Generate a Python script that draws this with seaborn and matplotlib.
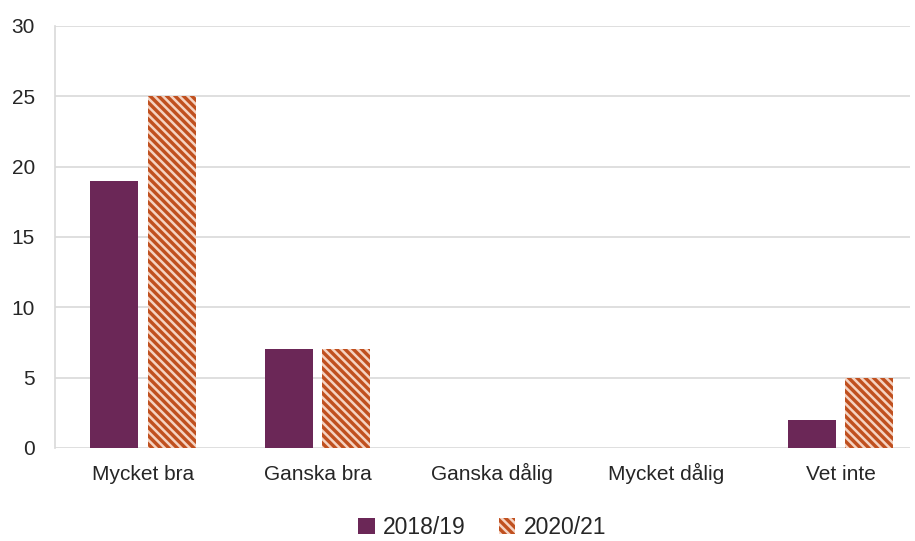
import numpy as np
import pandas as pd
import seaborn as sns
import matplotlib.pyplot as plt
from matplotlib.patches import Patch

# data
categories = ['Mycket bra', 'Ganska bra', 'Ganska dålig', 'Mycket dålig', 'Vet inte']
years = ['2018/19', '2020/21']
values_1819 = [19, 7, 0, 0, 2]
values_2021 = [25, 7, 0, 0, 5]

df = pd.DataFrame({
    'Kategori': categories * 2,
    'År': [years[0]] * len(categories) + [years[1]] * len(categories),
    'Antal': values_1819 + values_2021,
})

sns.set_style('white')
plt.rcParams['font.family'] = ['Liberation Sans', 'DejaVu Sans']
plt.rcParams['hatch.linewidth'] = 1.8

fig = plt.figure(figsize=(9.15, 5.41), dpi=100)
ax = fig.add_axes([0.060, 0.172, 0.935, 0.780])

purple = '#6B2757'
orange = '#C0501F'
stripe = '#F5D3C2'
sns.barplot(data=df, x='Kategori', y='Antal', hue='År', palette=[purple, orange],
            width=0.655, gap=0.16, ax=ax, legend=False, linewidth=0, saturation=1)

# hatch the second series (light stripes on orange)
for p in ax.containers[1]:
    p.set_hatch('\\\\\\\\')
    p.set_edgecolor(stripe)
    p.set_linewidth(0)

ax.set_ylim(0, 30)
ax.set_yticks(range(0, 31, 5))
ax.set_xlim(-0.505, 4.40)
ax.set_xlabel('')
ax.set_ylabel('')
ax.yaxis.grid(True, color='#D9D9D9', linewidth=1.2)
ax.set_axisbelow(True)
for s in ['top', 'right', 'bottom']:
    ax.spines[s].set_visible(False)
ax.spines['left'].set_color('#D9D9D9')
ax.spines['left'].set_linewidth(1.2)
ax.tick_params(axis='y', length=4.3, color='#D9D9D9', width=1.2, labelsize=15, pad=10)
ax.tick_params(axis='x', length=0, labelsize=15, pad=23)
for lab in ax.get_xticklabels():
    lab.set_verticalalignment('baseline')

handles = [Patch(facecolor=purple, linewidth=0),
           Patch(facecolor=orange, hatch='\\\\\\\\', edgecolor=stripe, linewidth=0)]
fig.legend(handles, years, loc='lower center', bbox_to_anchor=(0.527, -0.035), ncol=2,
           frameon=False, fontsize=16.5, handlelength=0.72, handleheight=0.72,
           handletextpad=0.35, columnspacing=1.45)

fig.savefig('out.png', dpi=100)
